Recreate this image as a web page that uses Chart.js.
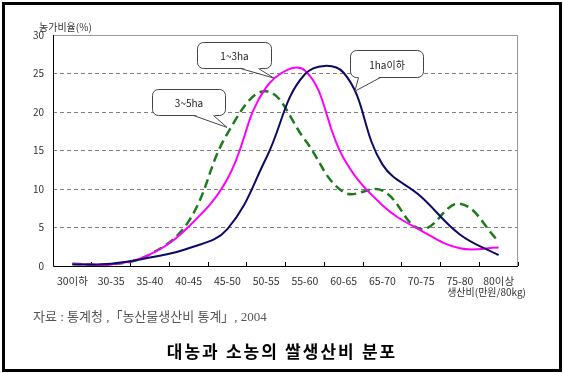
<!DOCTYPE html>
<html>
<head>
<meta charset="utf-8">
<script src="https://cdn.jsdelivr.net/npm/chart.js@4"></script>
<style>
  body { margin: 0; background: #fff; }
  #wrap { position: relative; width: 564px; height: 373px; overflow: hidden; }
  #frame { position: absolute; left: 2px; top: 2px; width: 560px; height: 370px; box-sizing: border-box; border: 3px solid #000; }
  #source { position: absolute; left: 33px; top: 306px; font: 13px "Liberation Serif", "Noto Sans CJK KR", serif; color: #555; white-space: nowrap; }
  #title { position: absolute; left: 0; width: 564px; top: 338px; text-align: center; font: bold 17px "Liberation Serif", "Noto Sans CJK KR", serif; color: #000; letter-spacing: 2px; }
  canvas { position: absolute; left: 0; top: 0; }
</style>
</head>
<body>
<div id="wrap">
  <canvas id="chart" width="564" height="373"></canvas>
  <div id="frame"></div>
  <div id="source">자료 : 통계청 ,「농산물생산비 통계」, 2004</div>
  <div id="title">대농과 소농의 쌀생산비 분포</div>
</div>
<script>
// 생산비 구간 (만원/80kg)
const categories = ["30이하", "30-35", "35-40", "40-45", "45-50", "50-55", "55-60", "60-65", "65-70", "70-75", "75-80", "80이상"];

// 농가비율 (%)
const under1ha = [0.2, 0.3, 1.1, 2.3, 4.8, 14.0, 24.9, 25.1, 13.2, 9.0, 4.1, 1.4];
const ha1to3 = [0.3, 0.2, 1.5, 5.1, 11.3, 23.2, 25.4, 14.0, 7.9, 4.6, 2.3, 2.4];
const ha3to5 = [0.3, 0.2, 1.5, 5.8, 17.2, 22.7, 16.4, 9.6, 9.8, 4.8, 8.1, 3.2];

const seriesNames = ["1ha이하", "1~3ha", "3~5ha"];
const yTitle = "농가비율(%)";
const xTitle = "생산비(만원/80kg)";

// speech bubbles : tip is in data space (category index, value)
const callouts = [
  { text: "1~3ha", tipX: 5.2, tipY: 24.4, box: [-77, -36, 74, 26], tail: [43, 61] },
  { text: "3~5ha", tipX: 3.99, tipY: 18.0, box: [-75, -38, 73, 26], tail: [41, 61] },
  { text: "1ha이하", tipX: 7.29, tipY: 22.7, box: [-5, -41, 73, 27], tail: [8, 30] },
];

const FONT = '"Noto Sans CJK KR", "Noto Sans", sans-serif';

const decor = {
  id: "decor",
  afterDraw(chart) {
    const ctx = chart.ctx;
    const a = chart.chartArea;
    const xs = chart.scales.x;
    const ys = chart.scales.y;
    ctx.save();

    // plot frame
    ctx.setLineDash([]);
    ctx.lineWidth = 1;
    ctx.strokeStyle = "#999";
    ctx.beginPath();
    ctx.moveTo(a.left, a.top + 0.5);
    ctx.lineTo(a.right - 0.5, a.top + 0.5);
    ctx.lineTo(a.right - 0.5, a.bottom);
    ctx.stroke();
    ctx.strokeStyle = "#000";
    ctx.beginPath();
    ctx.moveTo(a.left + 0.5, a.top);
    ctx.lineTo(a.left + 0.5, a.bottom + 0.5);
    ctx.lineTo(a.right, a.bottom + 0.5);
    ctx.stroke();

    // axis titles
    ctx.fillStyle = "#333";
    ctx.font = "10px " + FONT;
    ctx.textBaseline = "middle";
    ctx.textAlign = "left";
    ctx.fillText(yTitle, 39, 27);
    ctx.textAlign = "right";
    ctx.fillText(xTitle, 526, 292);

    // callouts
    callouts.forEach((c) => {
      const tx = xs.getPixelForValue(c.tipX);
      const ty = ys.getPixelForValue(c.tipY);
      const bx = Math.round(tx + c.box[0]) + 0.5;
      const by = Math.round(ty + c.box[1]) + 0.5;
      const bw = c.box[2];
      const bh = c.box[3];
      ctx.lineWidth = 1;
      ctx.strokeStyle = "#444";
      ctx.fillStyle = "#fff";
      ctx.beginPath();
      ctx.roundRect(bx, by, bw, bh, 6);
      ctx.fill();
      ctx.stroke();
      // tail
      const b1 = bx + c.tail[0];
      const b2 = bx + c.tail[1];
      ctx.beginPath();
      ctx.moveTo(b1, by + bh - 1);
      ctx.lineTo(tx, ty);
      ctx.lineTo(b2, by + bh - 1);
      ctx.closePath();
      ctx.fill();
      ctx.beginPath();
      ctx.moveTo(b1, by + bh);
      ctx.lineTo(tx, ty);
      ctx.lineTo(b2, by + bh);
      ctx.stroke();
      ctx.fillStyle = "#222";
      ctx.font = "10px " + FONT;
      ctx.textAlign = "center";
      ctx.textBaseline = "middle";
      ctx.fillText(c.text, bx + bw / 2, by + bh / 2 + 1);
    });
    ctx.restore();
  },
};

function drawChart() {
  const ctx = document.getElementById("chart").getContext("2d");
  const config = {
    type: "line",
    data: {
      labels: categories,
      datasets: [
        {
          label: seriesNames[0],
          data: under1ha,
          borderColor: "#0b0b66",
          borderWidth: 2,
          pointRadius: 0,
          tension: 0.4,
        },
        {
          label: seriesNames[1],
          data: ha1to3,
          borderColor: "#ff00ff",
          borderWidth: 2,
          pointRadius: 0,
          tension: 0.4,
        },
        {
          label: seriesNames[2],
          data: ha3to5,
          borderColor: "#1d7a1d",
          borderWidth: 2.5,
          borderDash: [9, 5],
          pointRadius: 0,
          tension: 0.4,
        },
      ],
    },
    options: {
      responsive: false,
      animation: false,
      devicePixelRatio: 1,
      layout: {
        padding: { top: 35, right: 46, left: 0, bottom: 0 },
      },
      plugins: {
        legend: { display: false },
        title: { display: false },
        tooltip: { enabled: false },
      },
      scales: {
        y: {
          min: 0,
          max: 30,
          afterFit: (scale) => {
            scale.width = 53;
          },
          border: { display: false, dash: [4, 3] },
          grid: {
            drawTicks: false,
            color: (c) => (c.tick.value === 0 || c.tick.value === 30 ? "rgba(0,0,0,0)" : "#808080"),
            lineWidth: 1,
          },
          ticks: {
            stepSize: 5,
            padding: 9,
            color: "#333",
            font: { size: 10, family: FONT },
          },
        },
        x: {
          offset: true,
          afterFit: (scale) => {
            scale.height = 107;
          },
          border: { display: false },
          grid: {
            offset: true,
            drawOnChartArea: false,
            drawTicks: true,
            tickLength: -4,
            color: "#000",
          },
          ticks: {
            autoSkip: false,
            maxRotation: 0,
            minRotation: 0,
            padding: 13,
            color: "#333",
            font: { size: 10.5, family: FONT },
          },
        },
      },
    },
    plugins: [decor],
  };

  const myChart = new Chart(ctx, config);
}

drawChart();
</script>
</body>
</html>
